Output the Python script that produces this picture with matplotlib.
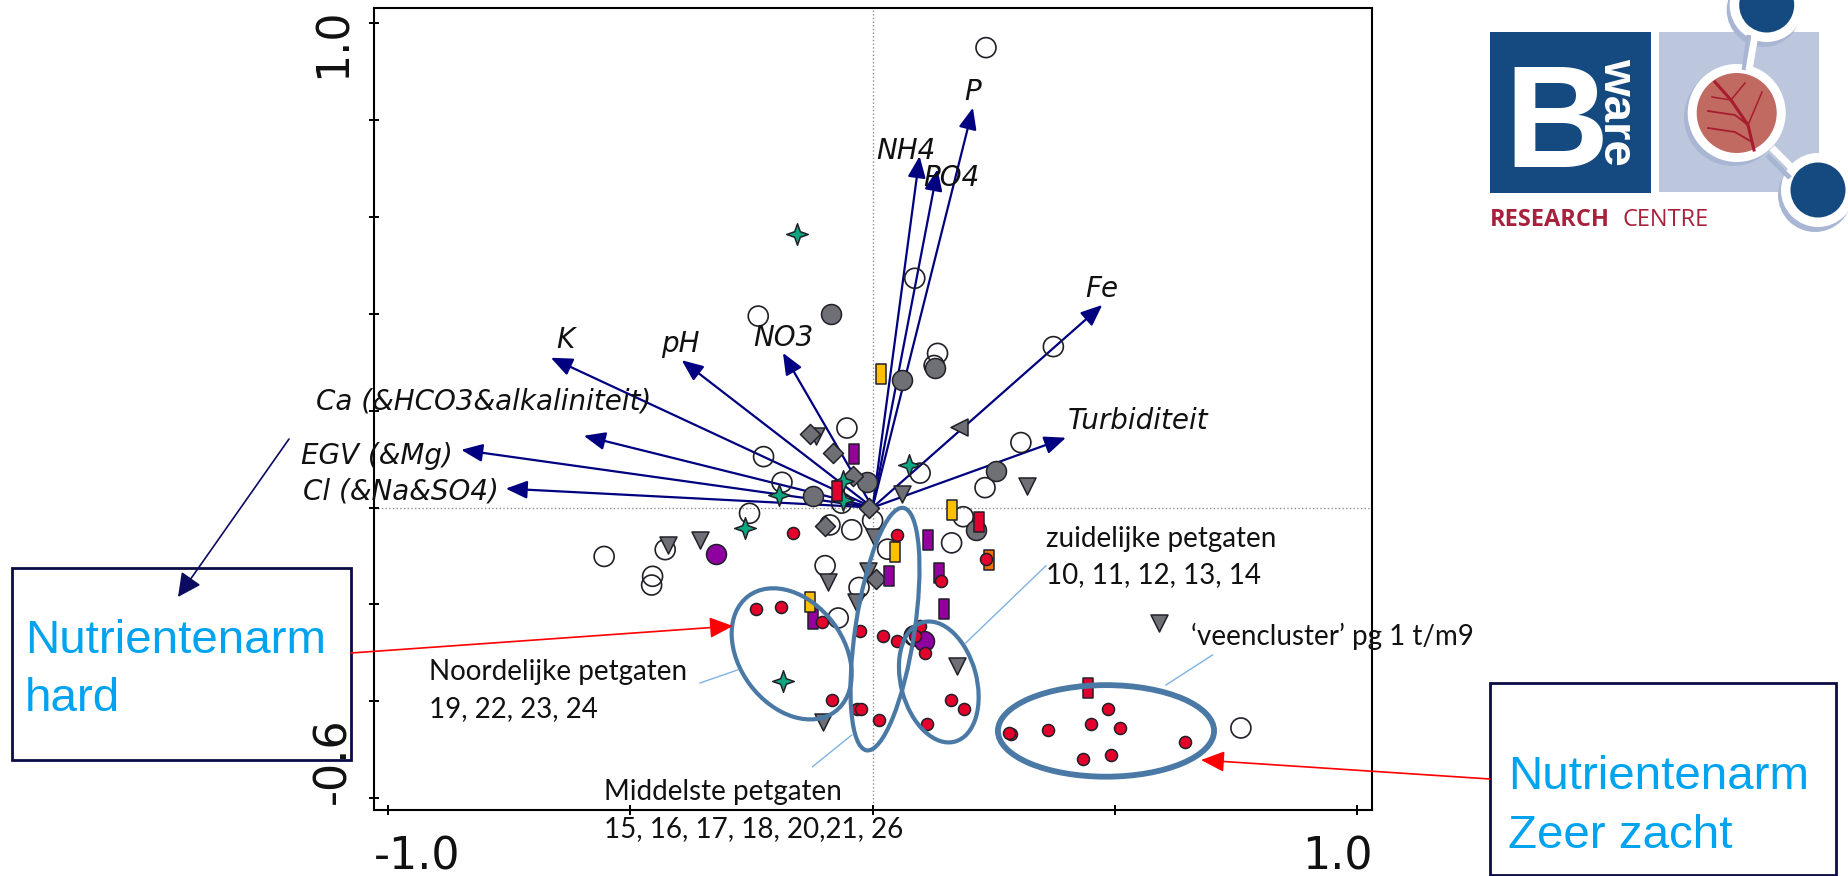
import matplotlib
matplotlib.use('Agg')
import matplotlib.pyplot as plt
from matplotlib.patches import Ellipse, Rectangle, Circle
from matplotlib.path import Path

# biplot arrows
arrow_names = ['P', 'NH4', 'PO4', 'Fe', 'Turbiditeit', 'NO3', 'pH', 'K',
               'Ca (&HCO3&alkaliniteit)', 'EGV (&Mg)', 'Cl (&Na&SO4)']
arrow_x = [.207, .097, .134, .474, .399, -.185, -.394, -.664, -.596, -.849, -.757]
arrow_y = [.825, .725, .698, .418, .144, .319, .304, .309, .148, .119, .039]
label_x = [.207, .069, .163, .472, .547, -.185, -.397, -.635, -.803, -1.022, -.974]
label_y = [.857, .735, .679, .450, .178, .350, .338, .345, .219, .107, .032]

# samples, one pair of lists per symbol
open_x = [-.053, -.225, -.187, .098, .306, .232, -.064, -.254, -.088, -.043, 0, .187, .163, .031,
          -.428, -.554, -.098, -.454, -.456, -.028, -.071, .086, .089, .234, .087, -.236, .134,
          .127, .373, .760]
open_y = [.164, .105, .052, .071, .134, .041, .009, -.012, -.036, -.046, -.027, -.019, -.073, -.086,
          -.087, -.101, -.120, -.142, -.160, -.165, -.228, -.265, -.265, .949, .473, .395, .318,
          .293, .332, -.455]
gray_x = [-.012, -.124, .254, .214, -.085, .061, .129]
gray_y = [.052, .023, .076, -.046, .399, .263, .287]
purple_x = [-.323, .107]
purple_y = [-.096, -.276]
diamond_x = [-.129, -.082, -.040, -.008, -.098, .006]
diamond_y = [.152, .113, .065, 0, -.039, -.148]
tri_x = [-.117, -.422, -.356, -.092, -.010, .061, .319, -.034, .003, .174, -.103, .591]
tri_y = [.148, -.077, -.068, -.154, -.132, .028, .045, -.194, -.060, -.327, -.442, -.239]
left_x = [.179]
left_y = [.166]
star_x = [.076, -.193, -.263, -.062, -.062, -.156, -.184]
star_y = [.087, .026, -.043, .054, .016, .564, -.357]
prect_x = [-.039, .114, .033, .136, .147, -.122]
prect_y = [.111, -.068, -.141, -.136, -.210, -.230]
rrect_x = [-.073, .219, .445]
rrect_y = [.034, -.030, -.372]
yrect_x = [.163, .047, -.130, .018]
yrect_y = [-.006, -.092, -.195, .275]
orect_x = [.240]
orect_y = [-.109]
red_x = [-.165, .050, .235, .141, -.241, -.188, -.105, -.026, .021, .050, .098, .088, .108, -.084,
         -.032, -.023, .013, .162, .188, .112, .286, .281, .362, .451, .485, .510, .644, .434, .491]
red_y = [-.052, -.057, -.106, -.151, -.209, -.206, -.236, -.254, -.265, -.275, -.244, -.266, -.301,
         -.397, -.416, -.416, -.438, -.397, -.416, -.447, -.467, -.465, -.459, -.447, -.416, -.456,
         -.483, -.520, -.511]

# clusters: x, y, width, height, angle
clusters = [(.4816, -.461, .446, .189, 0),
            (.1366, -.360, .156, .255, 15),
            (.0256, -.251, .122, .506, -8.6),
            (-.167, -.302, .214, .298, 37)]

navy = '#000080'
edge = '#202028'
blue = '#4a79a5'
cyan = '#00a3ee'
light = '#7fb2e2'
W, H = 1849, 876

rect_marker = Path([(-.27, -.5), (.27, -.5), (.27, .5), (-.27, .5), (-.27, -.5)], closed=True)
star_marker = Path([(0, .5), (.13, .13), (.5, 0), (.13, -.13), (0, -.5), (-.13, -.13), (-.5, 0), (-.13, .13), (0, .5)],
                   closed=True)

fig = plt.figure(figsize=(W / 100, H / 100), dpi=100)
x0, x1, y_top, y_bot = 374, 1372, 8, 810
ax = fig.add_axes([x0 / W, 1 - y_bot / H, (x1 - x0) / W, (y_bot - y_top) / H])
ax.set_xlim((x0 - 872.6) / 484.6, (x1 - 872.6) / 484.6)
ax.set_ylim((507.5 - y_bot) / 484.6, (507.5 - y_top) / 484.6)
ax.axhline(0, color='#909090', lw=1, ls=':', zorder=1)
ax.axvline(0, color='#909090', lw=1, ls=':', zorder=1)

for ax_, ay, name, lx, ly in zip(arrow_x, arrow_y, arrow_names, label_x, label_y):
    ax.annotate('', xy=(ax_, ay), xytext=(0, 0), zorder=2,
                arrowprops=dict(arrowstyle='-|>,head_length=1.0,head_width=.42', color=navy, lw=1.6,
                                mutation_scale=13, shrinkA=0, shrinkB=0))
    ax.text(lx, ly, name, style='italic', fontsize=20, ha='center', va='center', color='#111111', zorder=6)

ax.scatter(open_x, open_y, s=207, facecolor='none', edgecolor=edge, lw=1.2, zorder=3)
ax.scatter(gray_x, gray_y, s=207, color='#6f6f76', edgecolor=edge, lw=1.1, zorder=3)
ax.scatter(purple_x, purple_y, s=207, color='#8f00a0', edgecolor=edge, lw=1.1, zorder=3)
ax.scatter(tri_x, tri_y, s=150, marker='v', color='#6f6f76', edgecolor=edge, lw=1.1, zorder=3)
ax.scatter(left_x, left_y, s=150, marker='<', color='#6f6f76', edgecolor=edge, lw=1.1, zorder=3)
ax.scatter(diamond_x, diamond_y, s=104, marker='D', color='#6f6f76', edgecolor=edge, lw=1.1, zorder=3)
ax.scatter(star_x, star_y, s=240, marker=star_marker, color='#0ea681', edgecolor=edge, lw=1.1, zorder=3)
ax.scatter(prect_x, prect_y, s=207, marker=rect_marker, color='#93009c', edgecolor=edge, lw=1.1, zorder=4)
ax.scatter(rrect_x, rrect_y, s=207, marker=rect_marker, color='#e00030', edgecolor=edge, lw=1.1, zorder=4)
ax.scatter(yrect_x, yrect_y, s=207, marker=rect_marker, color='#ffc000', edgecolor=edge, lw=1.1, zorder=4)
ax.scatter(orect_x, orect_y, s=207, marker=rect_marker, color='#f07000', edgecolor=edge, lw=1.1, zorder=4)
ax.scatter(red_x, red_y, s=75, color='#e3002b', edgecolor=edge, lw=1.1, zorder=5)

for (cx, cy, cw, ch, ang), lw in zip(clusters, [4.2, 3, 3, 3]):
    ax.add_patch(Ellipse((cx, cy), cw, ch, angle=ang, fill=False, ec=blue, lw=lw, zorder=6))

ax.set_xticks([-1, -.5, 0, .5, 1])
ax.set_yticks([-.6, -.4, -.2, 0, .2, .4, .6, .8, 1])
ax.tick_params(length=7, width=1.4, direction='inout', labelbottom=False, labelleft=False)
for s in ax.spines.values():
    s.set_linewidth(1.5)

# everything placed on the slide itself, in pixels
ov = fig.add_axes([0, 0, 1, 1], zorder=10)
ov.set_xlim(0, W)
ov.set_ylim(H, 0)
ov.axis('off')
ov.patch.set_alpha(0)

ov.text(374, 857, '-1.0', fontsize=32, ha='left', va='center', color='#111111')
ov.text(1302, 857, '1.0', fontsize=32, ha='left', va='center', color='#111111')
ov.text(333, 43, '1.0', fontsize=32, rotation=90, ha='center', va='center', color='#111111')
ov.text(333, 761, '-0.6', fontsize=32, rotation=90, ha='center', va='center', color='#111111')

notes = [(1046, 547, 'zuidelijke petgaten'), (1046, 583, '10, 11, 12, 13, 14'),
         (1191, 645, '‘veencluster’ pg 1 t/m9'), (429, 680, 'Noordelijke petgaten'),
         (429, 717, '19, 22, 23, 24'), (604, 800, 'Middelste petgaten'),
         (604, 837, '15, 16, 17, 18, 20,21, 26')]
for nx, ny, s in notes:
    ov.text(nx, ny, s, family='Lato', fontsize=20, ha='left', va='baseline', color='#111111')

for (lx0, ly0, lx1, ly1) in [(700, 683, 737.5, 670), (812.5, 766.7, 851.8, 735),
                             (965.7, 643, 1046, 565.7), (1166, 685, 1212.5, 655)]:
    ov.plot([lx0, lx1], [ly0, ly1], color=light, lw=1)

ov.add_patch(Rectangle((12, 568), 339, 192, fill=False, ec='#0b0b45', lw=2))
ov.add_patch(Rectangle((1490, 683), 346, 192, fill=False, ec='#0b0b45', lw=2))
ov.text(25, 653, 'Nutrientenarm', family='Liberation Sans', fontsize=34.2, color=cyan, ha='left', va='baseline')
ov.text(25, 711, 'hard', family='Liberation Sans', fontsize=34.2, color=cyan, ha='left', va='baseline')
ov.text(1508, 789, 'Nutrientenarm', family='Liberation Sans', fontsize=34.2, color=cyan, ha='left', va='baseline')
ov.text(1508, 848, 'Zeer zacht', family='Liberation Sans', fontsize=34.2, color=cyan, ha='left', va='baseline')

ov.annotate('', xy=(733, 626), xytext=(351, 653),
            arrowprops=dict(arrowstyle='-|>,head_length=.9,head_width=.4', color='#ff0000', lw=1.2,
                            mutation_scale=16, shrinkA=0, shrinkB=0))
ov.annotate('', xy=(1201, 760), xytext=(1490, 779),
            arrowprops=dict(arrowstyle='-|>,head_length=.9,head_width=.4', color='#ff0000', lw=1.2,
                            mutation_scale=16, shrinkA=0, shrinkB=0))
ov.annotate('', xy=(178, 597), xytext=(289, 439),
            arrowprops=dict(arrowstyle='-|>,head_length=.9,head_width=.45', color='#0b0b60', lw=1.2,
                            mutation_scale=16, shrinkA=0, shrinkB=0))

# logo
dark = '#154a80'
pale = '#bcc7dd'
shadow = '#a9b6d3'
ov.add_patch(Rectangle((1490, 32), 161, 161, color=dark, lw=0))
ov.add_patch(Rectangle((1659, 32), 160, 160, color=pale, lw=0))
for cx, cy in [(1766.7, 5), (1818, 190)]:
    ov.add_patch(Circle((cx - 3, cy + 5), 37, color=shadow, lw=0))
ov.plot([1749, 1744], [35, 70], color=shadow, lw=3.5, solid_capstyle='butt')
ov.plot([1767, 1790], [155, 178], color=shadow, lw=3.5, solid_capstyle='butt')
ov.plot([1755, 1749], [35, 70], color='white', lw=5, solid_capstyle='butt')
ov.plot([1772, 1796], [148, 172], color='white', lw=5, solid_capstyle='butt')
for cx, cy in [(1766.7, 5), (1818, 190)]:
    ov.add_patch(Circle((cx, cy), 37, color='white', lw=0))
    ov.add_patch(Circle((cx, cy), 27.5, color=dark, lw=0))
ov.add_patch(Circle((1733, 117), 49, color=shadow, lw=0))
ov.add_patch(Circle((1736.7, 113), 49, color='white', lw=0))
ov.add_patch(Circle((1736.7, 113), 40, color='#c06a62', lw=0))
vein = '#a81c30'
ov.plot([1754, 1748, 1731, 1715], [150, 125, 100, 82], color=vein, lw=2.2)
ov.plot([1748, 1735, 1708], [125, 115, 111], color=vein, lw=1.3)
ov.plot([1752, 1735, 1708], [142, 132, 128], color=vein, lw=1.3)
ov.plot([1731, 1712], [100, 97], color=vein, lw=1.1)
ov.plot([1731, 1745], [100, 83], color=vein, lw=1.1)
ov.plot([1748, 1762], [125, 92], color=vein, lw=1.1)
ov.text(1504, 167, 'B', family=['Liberation Sans Narrow', 'Liberation Sans'], weight='bold', fontsize=104,
        color='white', ha='left', va='baseline')
ov.text(1616, 112, 'ware', family='Liberation Sans', weight='bold', fontsize=34, rotation=270,
        color='white', ha='center', va='center')
ov.text(1490, 226, 'RESEARCH', family='Open Sans', weight='bold', fontsize=17, color='#a8213c', ha='left', va='baseline')
ov.text(1623, 226, 'CENTRE', family='Open Sans', fontsize=17, color='#a8213c', ha='left', va='baseline')

fig.savefig('out.png', dpi=100)
